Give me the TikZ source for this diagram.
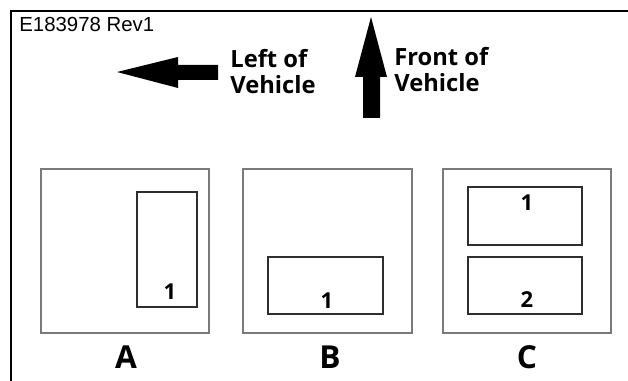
\documentclass[tikz,border=0pt]{standalone}
\usepackage{fontspec}
\setmainfont{Open Sans}
\newfontfamily\refont{Liberation Sans}
\usetikzlibrary{positioning}
\definecolor{boxGrey}{HTML}{7A7A7A}
\definecolor{boxDark}{HTML}{2E2E2E}
\tikzset{
  area/.style ={rectangle,draw=boxGrey,line width=0.9pt,inner sep=0pt,minimum width=3.36cm,minimum height=3.28cm},
  zone/.style ={rectangle,draw=boxDark,line width=1.1pt,inner sep=0pt},
  num/.style  ={font=\fontsize{12.5}{14}\selectfont\bfseries,inner sep=0pt},
  view/.style ={font=\fontsize{18}{20}\selectfont\bfseries,inner sep=0pt},
  dir/.style  ={font=\fontsize{13.5}{14.8}\selectfont\bfseries,align=left,anchor=north west,inner sep=0pt},
}

\begin{document}
\begin{tikzpicture}[x=0.02cm,y=-0.02cm]
  \useasboundingbox (0,0) rectangle (628,381);
  % frame
  \draw[line width=1.2pt] (628,11) -- (11,11) -- (11,381);
  \node[anchor=base west,inner sep=0pt,font=\refont\fontsize{11.6}{13}\selectfont] (ref) at (19,32) {E183978 Rev1};

  % direction arrows
  \fill (117,72) -- (178,57) -- (178,65) -- (218,65) -- (218,80) -- (178,80) -- (178,88) -- cycle;
  \node[dir] (left) at (230,49) {Left of\\Vehicle};
  \fill (371,17) -- (387,77) -- (380,77) -- (380,118) -- (363,118) -- (363,77) -- (355,77) -- cycle;
  \node[dir] (front) at (394,47) {Front of\\Vehicle};

  % view A
  \node[area] (a) at (125,251) {};
  \node[zone,minimum width=1.2cm,minimum height=2.3cm] (a1) at (167,249.5) {};
  \node[num] (a1n) at (170,292) {1};
  \node[view] (la) at (126,357) {A};

  % view B
  \node[area,minimum width=3.38cm] (b) at (327.5,251) {};
  \node[zone,minimum width=2.3cm,minimum height=1.14cm] (b1) at (325.5,285.5) {};
  \node[num] (b1n) at (327,301) {1};
  \node[view] (lb) at (330,357) {B};

  % view C
  \node[area] (c) at (527,251) {};
  \node[zone,minimum width=2.28cm,minimum height=1.16cm] (c1) at (525,216) {};
  \node[num] (c1n) at (527,203) {1};
  \node[zone,minimum width=2.28cm,minimum height=1.14cm] (c2) at (525,285.5) {};
  \node[num] (c2n) at (527,300) {2};
  \node[view] (lc) at (527,357) {C};
\end{tikzpicture}
\end{document}
